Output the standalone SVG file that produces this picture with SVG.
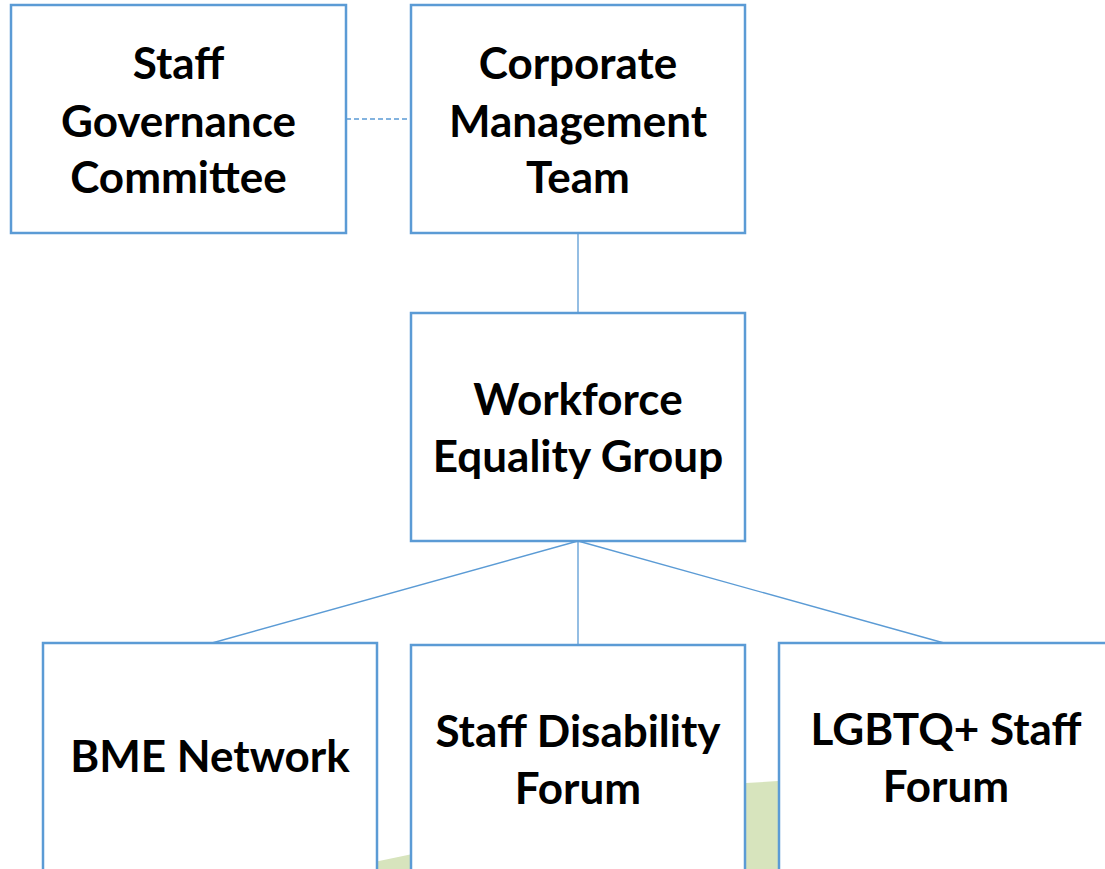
<svg xmlns="http://www.w3.org/2000/svg" width="1105" height="869" viewBox="0 0 1105 869">
<style>
.box{fill:#ffffff;stroke:#5b9bd5;stroke-width:2.5}
.lbl{font-family:Lato,"Liberation Sans",sans-serif;font-weight:700;font-size:44px;fill:#000;text-anchor:middle}
.con{stroke:#5b9bd5;stroke-width:1.3;fill:none}
</style>
<rect width="1105" height="869" fill="#ffffff"/>
<path d="M 300 869 L 379 861 C 520 833 650 789 746 783 L 778 781 Q 950 772 1105 770 L 1105 869 Z" fill="#d7e4bd"/>
<g id="connectors">
<line class="con" x1="346" y1="119" x2="411" y2="119" stroke-dasharray="5 3"/>
<line class="con" x1="578" y1="233" x2="578" y2="313"/>
<line class="con" x1="578" y1="541" x2="212" y2="643"/>
<line class="con" x1="578" y1="541" x2="578" y2="645"/>
<line class="con" x1="578" y1="541" x2="944" y2="643"/>
</g>
<g id="staff-governance">
<rect class="box" x="11" y="5" width="335" height="228"/>
<text class="lbl" x="178.5" y="79">Staff</text>
<text class="lbl" x="178.5" y="137">Governance</text>
<text class="lbl" x="178.5" y="193">Committee</text>
</g>
<g id="corporate-management">
<rect class="box" x="411" y="5" width="334" height="228"/>
<text class="lbl" x="578" y="79">Corporate</text>
<text class="lbl" x="578" y="137">Management</text>
<text class="lbl" x="578" y="193">Team</text>
</g>
<g id="workforce-equality">
<rect class="box" x="411" y="313" width="334" height="228"/>
<text class="lbl" x="578" y="415">Workforce</text>
<text class="lbl" x="578" y="472">Equality Group</text>
</g>
<g id="bme-network">
<rect class="box" x="43" y="643" width="334" height="240"/>
<text class="lbl" x="210" y="772">BME Network</text>
</g>
<g id="staff-disability">
<rect class="box" x="411" y="645" width="334" height="240"/>
<text class="lbl" x="578" y="747">Staff Disability</text>
<text class="lbl" x="578" y="804">Forum</text>
</g>
<g id="lgbtq-staff">
<rect class="box" x="779" y="643" width="334" height="240"/>
<text class="lbl" x="946" y="745">LGBTQ+ Staff</text>
<text class="lbl" x="946" y="802">Forum</text>
</g>
</svg>
